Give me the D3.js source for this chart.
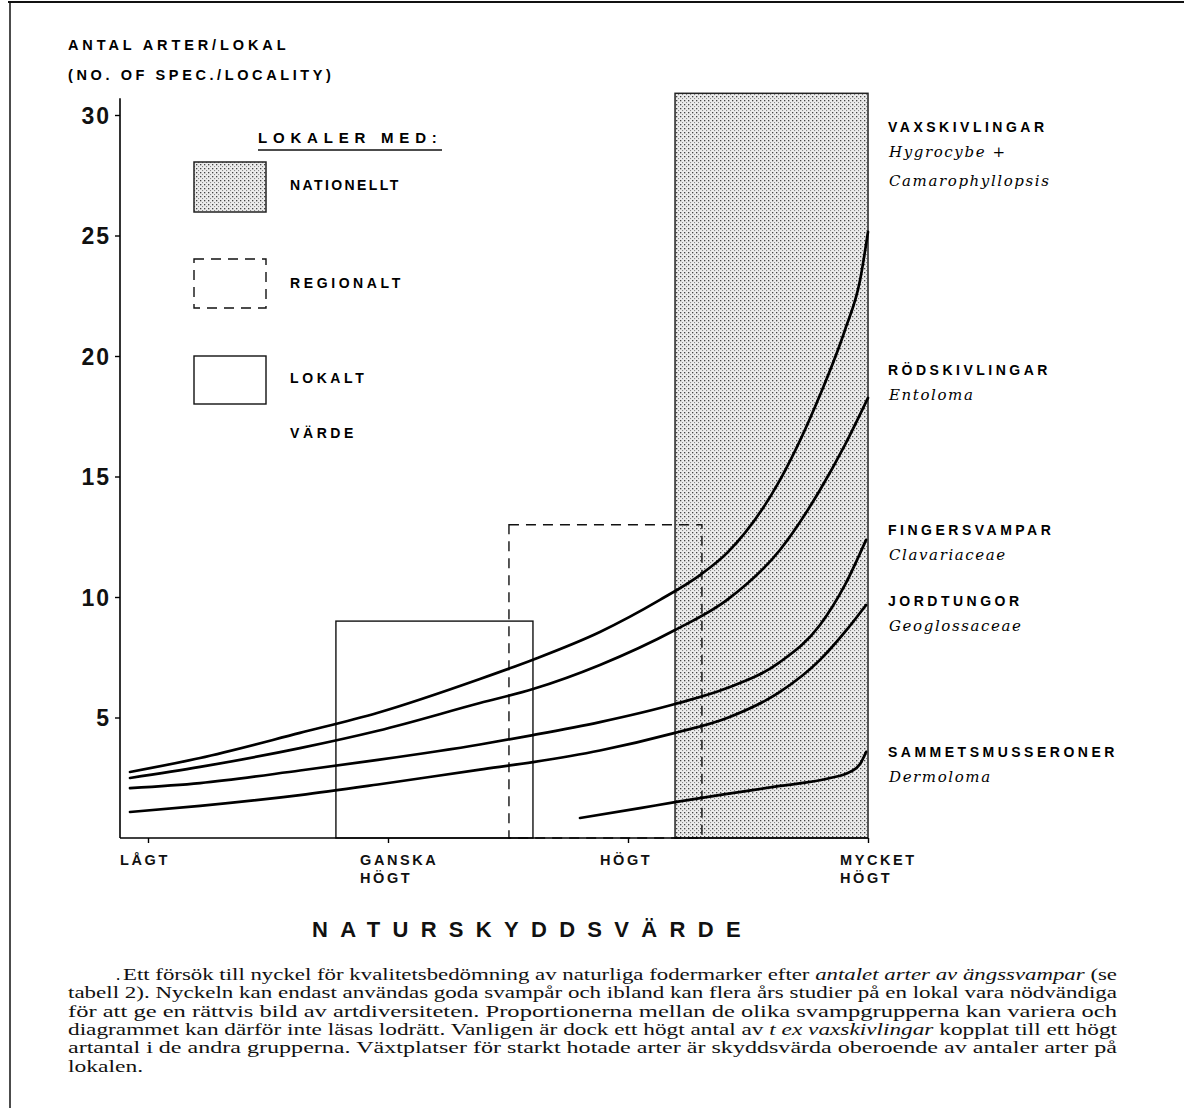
<!DOCTYPE html>
<html>
<head>
<meta charset="utf-8">
<script src="https://cdn.jsdelivr.net/npm/d3@7"></script>
<style>
  body { margin: 0; background: #fff; }
  svg { display: block; }
</style>
</head>
<body>
<svg id="chart" width="1184" height="1108"></svg>
<script>
// categories on the x axis (value of nature protection)
var xCats = [["LÅGT"], ["GANSKA", "HÖGT"], ["HÖGT"], ["MYCKET", "HÖGT"]];
var yTicks = [5, 10, 15, 20, 25, 30];

// curves: x in category units (0 = LÅGT ... 3 = MYCKET HÖGT), y = number of species
var vaxX = [-0.075, 0.217, 0.633, 0.958, 1.383, 1.604, 1.883, 2.133, 2.3, 2.413, 2.633, 2.8, 2.904, 2.967, 3.0];
var vaxY = [2.74, 3.32, 4.36, 5.2, 6.6, 7.4, 8.55, 9.88, 10.91, 11.83, 14.85, 18.38, 21.08, 23.15, 25.15];

var rodX = [-0.075, 0.217, 0.633, 0.958, 1.383, 1.604, 1.883, 2.196, 2.413, 2.633, 2.8, 2.904, 3.0];
var rodY = [2.49, 2.95, 3.73, 4.45, 5.6, 6.18, 7.18, 8.63, 9.88, 11.95, 14.44, 16.31, 18.26];

var fingX = [-0.075, 0.217, 0.633, 0.958, 1.383, 1.604, 1.883, 2.196, 2.413, 2.633, 2.8, 2.904, 2.992];
var fingY = [2.07, 2.28, 2.8, 3.24, 3.88, 4.27, 4.81, 5.56, 6.22, 7.30, 8.84, 10.50, 12.37];

var jordX = [-0.075, 0.217, 0.633, 0.958, 1.383, 1.604, 1.883, 2.196, 2.413, 2.633, 2.8, 2.904, 2.992];
var jordY = [1.08, 1.33, 1.78, 2.22, 2.84, 3.15, 3.63, 4.36, 4.98, 6.06, 7.39, 8.55, 9.67];

var sammX = [1.8, 2.05, 2.196, 2.413, 2.633, 2.842, 2.925, 2.967, 2.992];
var sammY = [0.83, 1.24, 1.49, 1.83, 2.16, 2.49, 2.74, 3.07, 3.57];

// boxes: [x0, x1, top]
var nationellt = [2.196, 3.0, 30.9];
var regionalt = [1.504, 2.308, 13];
var lokalt = [0.783, 1.604, 9];

// right hand labels
var groupNames = ["VAXSKIVLINGAR", "RÖDSKIVLINGAR", "FINGERSVAMPAR", "JORDTUNGOR", "SAMMETSMUSSERONER"];
var groupLatin = [["Hygrocybe +", "Camarophyllopsis"], ["Entoloma"], ["Clavariaceae"], ["Geoglossaceae"], ["Dermoloma"]];
var groupLabelY = [127, 370, 530, 601, 752];

var caption = [
    [["Ett försök till nyckel för kvalitetsbedömning av naturliga fodermarker efter ", false], ["antalet arter av ängssvampar", true], [" (se", false]],
    [["tabell 2). Nyckeln kan endast användas goda svampår och ibland kan flera års studier på en lokal vara nödvändiga", false]],
    [["för att ge en rättvis bild av artdiversiteten. Proportionerna mellan de olika svampgrupperna kan variera och", false]],
    [["diagrammet kan därför inte läsas lodrätt. Vanligen är dock ett högt antal av ", false], ["t ex vaxskivlingar", true], [" kopplat till ett högt", false]],
    [["artantal i de andra grupperna. Växtplatser för starkt hotade arter är skyddsvärda oberoende av antaler arter på", false]],
    [["lokalen.", false]]
];

function main() {
    var svg = d3.select("#chart");
    var boldFont = "'Liberation Sans', Arial, sans-serif";

    var x = d3.scaleLinear().domain([0, 3]).range([148, 868]);
    var y = d3.scaleLinear().domain([0, 30]).range([838, 115]);

    // stipple pattern for "nationellt"
    var defs = svg.append("defs");
    var pat = defs.append("pattern")
        .attr("id", "dots")
        .attr("patternUnits", "userSpaceOnUse")
        .attr("width", 4).attr("height", 4);
    pat.append("rect").attr("width", 4).attr("height", 4).attr("fill", "#ececec");
    pat.append("rect").attr("x", 0).attr("y", 0).attr("width", 1.3).attr("height", 1.3).attr("fill", "#444");
    pat.append("rect").attr("x", 2).attr("y", 2).attr("width", 1.1).attr("height", 1.1).attr("fill", "#888");

    // frame
    svg.append("line").attr("x1", 8).attr("x2", 1184).attr("y1", 2).attr("y2", 2)
        .attr("stroke", "#111").attr("stroke-width", 2);
    svg.append("line").attr("x1", 10).attr("x2", 10).attr("y1", 2).attr("y2", 1108)
        .attr("stroke", "#111").attr("stroke-width", 1.5);

    // y axis title
    svg.append("text").attr("x", 68).attr("y", 50).text("ANTAL ARTER/LOKAL")
        .attr("font-family", boldFont).attr("font-weight", "bold").attr("font-size", 14.5)
        .attr("letter-spacing", 3.9);
    svg.append("text").attr("x", 68).attr("y", 80).text("(NO. OF SPEC./LOCALITY)")
        .attr("font-family", boldFont).attr("font-weight", "bold").attr("font-size", 14.5)
        .attr("letter-spacing", 3.6);

    // boxes
    svg.append("rect")
        .attr("x", x(nationellt[0])).attr("y", y(nationellt[2]))
        .attr("width", x(nationellt[1]) - x(nationellt[0]))
        .attr("height", y(0) - y(nationellt[2]))
        .attr("fill", "url(#dots)").attr("stroke", "#222").attr("stroke-width", 1.5);

    svg.append("rect")
        .attr("x", x(lokalt[0])).attr("y", y(lokalt[2]))
        .attr("width", x(lokalt[1]) - x(lokalt[0]))
        .attr("height", y(0) - y(lokalt[2]))
        .attr("fill", "none").attr("stroke", "#111").attr("stroke-width", 1.4);

    svg.append("rect")
        .attr("x", x(regionalt[0])).attr("y", y(regionalt[2]))
        .attr("width", x(regionalt[1]) - x(regionalt[0]))
        .attr("height", y(0) - y(regionalt[2]))
        .attr("fill", "none").attr("stroke", "#111").attr("stroke-width", 1.4)
        .attr("stroke-dasharray", "10,7");

    // axes
    var yAxis = d3.axisLeft(y).tickValues(yTicks).tickSize(5).tickSizeOuter(0);
    var gy = svg.append("g").attr("transform", "translate(120,0)").call(yAxis);
    gy.select(".domain").attr("d", "M0," + y(30.7) + "V" + y(0)).attr("stroke-width", 1.6);
    gy.selectAll(".tick line").attr("stroke-width", 1.4);
    gy.selectAll(".tick text")
        .attr("font-family", boldFont).attr("font-weight", "bold").attr("font-size", 23)
        .attr("letter-spacing", 2)
        .attr("x", -9).attr("dy", "0.36em").attr("fill", "#111");

    var xAxis = d3.axisBottom(x).tickValues([0, 1, 2, 3]).tickSize(5).tickFormat("");
    var gx = svg.append("g").attr("transform", "translate(0," + y(0) + ")").call(xAxis);
    gx.select(".domain").attr("d", "M120,0H" + x(3)).attr("stroke-width", 1.6);
    gx.selectAll(".tick line").attr("stroke-width", 1.4);

    // x category labels
    xCats.forEach(function(lines, i) {
        var t = svg.append("text")
            .attr("x", x(i) - 28).attr("y", 865)
            .attr("font-family", boldFont).attr("font-weight", "bold").attr("font-size", 14.5)
            .attr("letter-spacing", 2.6).attr("fill", "#111");
        lines.forEach(function(l, j) {
            t.append("tspan").attr("x", x(i) - 28).attr("dy", j == 0 ? 0 : 18).text(l);
        });
    });

    // x axis title
    svg.append("text").attr("x", 312).attr("y", 937).text("NATURSKYDDSVÄRDE")
        .attr("font-family", boldFont).attr("font-weight", "bold").attr("font-size", 22)
        .attr("letter-spacing", 12.3).attr("fill", "#111");

    // curves
    var line = d3.line()
        .x(function(d) { return x(d[0]); })
        .y(function(d) { return y(d[1]); })
        .curve(d3.curveMonotoneX);

    var series = [[vaxX, vaxY], [rodX, rodY], [fingX, fingY], [jordX, jordY], [sammX, sammY]];
    series.forEach(function(s) {
        var pts = d3.zip(s[0], s[1]);
        svg.append("path").datum(pts)
            .attr("d", line)
            .attr("fill", "none").attr("stroke", "#000")
            .attr("stroke-width", 2.7).attr("stroke-linecap", "round");
    });

    // legend
    var lg = svg.append("g");
    lg.append("text").attr("x", 258).attr("y", 143).text("LOKALER MED:")
        .attr("font-family", boldFont).attr("font-weight", "bold").attr("font-size", 15)
        .attr("letter-spacing", 5.8);
    lg.append("line").attr("x1", 258).attr("x2", 442).attr("y1", 150).attr("y2", 150)
        .attr("stroke", "#111").attr("stroke-width", 1.5);
    lg.append("rect").attr("x", 194).attr("y", 162).attr("width", 72).attr("height", 50)
        .attr("fill", "url(#dots)").attr("stroke", "#222").attr("stroke-width", 1.5);
    lg.append("rect").attr("x", 194).attr("y", 259).attr("width", 72).attr("height", 49)
        .attr("fill", "none").attr("stroke", "#111").attr("stroke-width", 1.4)
        .attr("stroke-dasharray", "10,7");
    lg.append("rect").attr("x", 194).attr("y", 356).attr("width", 72).attr("height", 48)
        .attr("fill", "none").attr("stroke", "#111").attr("stroke-width", 1.4);
    var legendText = [["NATIONELLT", 190, 2.4], ["REGIONALT", 288, 3.6], ["LOKALT", 383, 3.6], ["VÄRDE", 438, 3.6]];
    legendText.forEach(function(d) {
        lg.append("text").attr("x", 290).attr("y", d[1]).text(d[0])
            .attr("font-family", boldFont).attr("font-weight", "bold").attr("font-size", 14)
            .attr("letter-spacing", d[2]);
    });

    // group labels on the right
    groupNames.forEach(function(n, i) {
        svg.append("text").attr("x", 888).attr("y", groupLabelY[i] + 5).text(n)
            .attr("font-family", boldFont).attr("font-weight", "bold").attr("font-size", 14)
            .attr("letter-spacing", 3.5);
        groupLatin[i].forEach(function(l, j) {
            svg.append("text").attr("x", 889).attr("y", groupLabelY[i] + 30 + j * 29).text(l)
                .attr("font-family", "'DejaVu Serif', serif").attr("font-style", "italic")
                .attr("font-size", 15).attr("letter-spacing", 1.6);
        });
    });

    // caption, justified lines (the scan is stretched, so stretch the glyphs too)
    svg.append("text").attr("x", 116).attr("y", 980).text(".")
        .attr("font-family", "'Liberation Serif', serif").attr("font-size", 17);
    var ratios = [];
    caption.forEach(function(parts, i) {
        var x0 = i == 0 ? 123 : 68;
        var t = svg.append("text")
            .attr("x", x0).attr("y", 980 + i * 18.3)
            .attr("font-family", "'Liberation Serif', 'Times New Roman', serif")
            .attr("font-size", 17.5).attr("fill", "#111");
        parts.forEach(function(p) {
            t.append("tspan").text(p[0]).attr("font-style", p[1] ? "italic" : "normal");
        });
        var natural = t.node().getComputedTextLength();
        var target;
        if (i < caption.length - 1) {
            target = 1117 - x0;
            ratios.push(target / natural);
        } else {
            target = natural * d3.mean(ratios);
        }
        t.attr("textLength", target).attr("lengthAdjust", "spacingAndGlyphs");
    });
}
main();
</script>
</body>
</html>
